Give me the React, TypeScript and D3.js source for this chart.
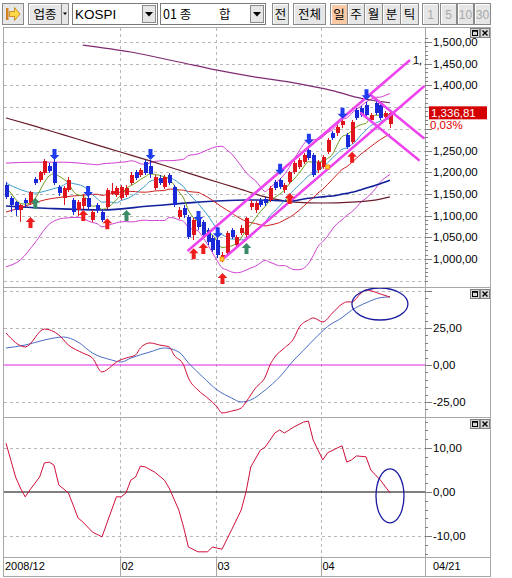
import React from 'react';
import * as d3 from 'd3';

// ---------------- data ----------------
const monthIdx = [0, 24, 44, 66];
const monthLabels = ['2008/12', '02', '03', '04'];
const lastLabel = '04/21';

const opens = [
  1170, 1141, 1131, 1113, 1136, 1129, 1184, 1182, 1198, 1214,
  1223, 1166, 1141, 1159, 1136, 1113, 1122, 1141, 1090, 1124,
  1108, 1120, 1150, 1147, 1141, 1147, 1175, 1200, 1194, 1223,
  1214, 1164, 1187, 1166, 1194, 1166, 1097, 1118, 1097, 1055,
  1097, 1085, 1067, 1048, 1044, 1000, 1014, 1067, 1032, 1060,
  1055, 1120, 1113, 1136, 1138, 1136, 1177, 1182, 1159, 1177,
  1200, 1212, 1223, 1251, 1240, 1205, 1212, 1247, 1290, 1290,
  1309, 1286, 1270, 1343, 1348, 1355, 1320, 1359, 1355, 1328, 1310,
];
const highs = [
  1178, 1146, 1134, 1127, 1141, 1157, 1189, 1203, 1230, 1221,
  1230, 1170, 1168, 1189, 1140, 1136, 1150, 1145, 1113, 1129,
  1115, 1164, 1175, 1168, 1170, 1170, 1200, 1205, 1210, 1228,
  1228, 1194, 1194, 1194, 1198, 1170, 1120, 1124, 1101, 1094,
  1101, 1090, 1071, 1055, 1048, 1016, 1064, 1071, 1055, 1078,
  1097, 1136, 1134, 1141, 1143, 1168, 1182, 1187, 1175, 1203,
  1226, 1233, 1245, 1256, 1244, 1228, 1240, 1279, 1295, 1309,
  1320, 1290, 1320, 1348, 1352, 1362, 1336, 1366, 1359, 1340, 1341,
];
const lows = [
  1138, 1108, 1099, 1085, 1120, 1124, 1170, 1178, 1194, 1198,
  1170, 1145, 1124, 1155, 1101, 1099, 1115, 1113, 1085, 1106,
  1085, 1115, 1147, 1143, 1136, 1143, 1170, 1182, 1189, 1194,
  1187, 1159, 1170, 1162, 1170, 1120, 1092, 1094, 1046, 1044,
  1067, 1048, 1032, 1016, 1002, 993, 1009, 1046, 1028, 1055,
  1051, 1113, 1106, 1120, 1122, 1131, 1159, 1162, 1152, 1173,
  1196, 1207, 1219, 1228, 1189, 1198, 1207, 1242, 1274, 1284,
  1302, 1253, 1265, 1320, 1327, 1327, 1316, 1332, 1320, 1322, 1302,
];
const closes = [
  1143, 1124, 1113, 1124, 1129, 1154, 1175, 1200, 1226, 1203,
  1175, 1152, 1164, 1182, 1108, 1131, 1141, 1120, 1108, 1113,
  1090, 1159, 1157, 1164, 1166, 1164, 1194, 1187, 1205, 1198,
  1196, 1189, 1175, 1189, 1175, 1124, 1113, 1101, 1051, 1090,
  1074, 1055, 1039, 1021, 1009, 1009, 1060, 1051, 1051, 1071,
  1094, 1129, 1129, 1124, 1129, 1164, 1164, 1166, 1170, 1200,
  1221, 1228, 1240, 1233, 1194, 1223, 1235, 1274, 1279, 1304,
  1318, 1258, 1316, 1325, 1332, 1332, 1332, 1336, 1325, 1336.4, 1336.81,
];
const lastClose = 1336.81;
const lastChange = '0,03%';

// averages before a full window is available
const ma5Early: [number, number][] = [[0, 1166], [1, 1152], [2, 1138], [3, 1128]];
const ma10Early: [number, number][] = [[0, 1175], [3, 1160], [6, 1152], [8, 1156]];
const ma20Early: [number, number][] = [[0, 1108], [4, 1122], [8, 1136], [12, 1143], [16, 1147], [18, 1149]];
const bbUpEarly: [number, number][] = [[0, 1221], [6, 1223], [12, 1223], [18, 1218]];
const bbLoEarly: [number, number][] = [[0, 982], [3, 998], [6, 1037], [9, 1080], [12, 1094], [15, 1096], [18, 1084]];
const ma60Early: [number, number][] = [[0, 1122], [10, 1116], [20, 1113], [30, 1122], [40, 1131], [50, 1136], [58, 1134]];
const ma120Idx = [0, 6, 12, 18, 24, 30, 36, 42, 48, 54, 60, 66, 72, 78, 80];
const ma120Val = [1325, 1306, 1286, 1266, 1246, 1226, 1205, 1184, 1164, 1143, 1131, 1129, 1131, 1138, 1143];
const ma240Idx = [16, 26, 36, 44, 52, 60, 68, 74, 80];
const ma240Val = [1493, 1477, 1454, 1435, 1419, 1406, 1388, 1370, 1360];

// trend channel lines (index, price) start -> end
const trendStartIdx = [38, 45, 76, 74];
const trendStartVal = [1020, 998, 1378, 1336];
const trendEndIdx = [84, 87, 87, 86];
const trendEndVal = [1457, 1397, 1279, 1228];

// signal arrows (index, price at arrow tip)
const sellIdx = [10, 17, 30, 40, 44, 57, 63, 70, 75];
const sellPrice = [1228, 1143, 1228, 1085, 1048, 1194, 1263, 1323, 1366];
const buyIdx = [5, 16, 21, 39, 41, 45, 59, 72];
const buyPrice = [1097, 1113, 1094, 1025, 1037, 968, 1152, 1247];
const greenIdx = [6, 25, 50];
const greenPrice = [1141, 1113, 1037];
const markIdx = [45, 59, 67];
const markPrice = [1000, 1136, 1212];

// middle panel
const macdIdx = [0, 4, 8, 11, 13, 16, 18, 20, 22, 23, 25, 27, 28, 30, 32, 34, 35, 37, 38, 40, 42, 44, 45, 47, 49, 50, 52, 54, 55, 56, 58, 60, 61, 63, 64, 66, 68, 70, 71, 72, 74, 75, 78, 80];
const macdVal = [21.6, 12.2, 24.3, 20.3, 13.5, 8.1, 4.7, -4.7, -0.7, 2.0, 4.7, 6.8, 11.5, 14.9, 13.5, 12.2, 6.8, 0, -8.8, -16.9, -22.3, -28.4, -32.4, -31.1, -29.1, -25, -15.5, -8.1, 0, 5.4, 11.5, 18.2, 25, 30.4, 31.8, 29.1, 35.1, 41.2, 42.6, 42.6, 48.6, 50.7, 48, 45.9];
const sigIdx = [0, 4, 8, 12, 15, 18, 22, 24, 26, 30, 33, 36, 38, 41, 44, 47, 49, 51, 54, 57, 60, 62, 65, 67, 70, 72, 75, 78, 80];
const sigVal = [11.5, 13.5, 16.9, 18.9, 15.5, 8.1, 3.4, 2, 4.7, 8.8, 11.5, 8.8, 1.4, -8.1, -16.9, -22.3, -25, -23.6, -16.9, -8.1, 3.4, 10, 20, 26, 32, 37, 42, 45.5, 46];
const midTicks = [-25, 0, 25];

// bottom panel
const oscIdx = [0, 2, 3, 4, 5, 7, 8, 9, 10, 11, 13, 14, 15, 16, 18, 20, 22, 23, 24, 25, 26, 27, 28, 29, 31, 33, 34, 36, 37, 38, 40, 42, 43, 45, 47, 49, 50, 51, 53, 54, 56, 57, 58, 60, 62, 63, 64, 66, 67, 69, 70, 71, 72, 73, 75, 76, 78, 80];
const oscVal = [11.1, 3.4, 0.9, -1.1, 0.5, 3.4, 6.6, 6.8, 6.1, 1.6, -0.2, -3.0, -5.9, -6.8, -9.1, -10.2, -4.1, -1.1, -1.1, -0.2, 2.7, 3.4, 5.9, 5.7, 4.5, 2.7, 0.9, -4.1, -8.0, -12.5, -13.6, -13.6, -12.5, -13.0, -8.6, -4.1, 0, 5.7, 9.5, 10.2, 13.4, 14.1, 13.4, 14.8, 15.9, 16.1, 11.8, 7.3, 8.9, 10, 10.5, 6.8, 7.3, 8.2, 8.0, 5.0, 2.7, -0.2];
const botTicks = [-10, 0, 10];

// ---------------- layout ----------------
const plotL = 4, plotR = 425, axR = 490;
const pTop = 28, pBot = 287, mTop = 287, mBot = 417, bTop = 417, bBot = 557, frameBot = 576;

const x = d3.scaleLinear().domain([0, 80]).range([6, 390]);
const yP = d3.scaleLinear().domain([1000, 1500]).range([259, 42]);
const yM = d3.scaleLinear().domain([0, 25]).range([365, 328]);
const yB = d3.scaleLinear().domain([0, 10]).range([492, 448]);

const fmt = (v: number) => (v < 0 ? '-' : '') + d3.format(',.2f')(Math.abs(v)).replace('.', ',');

function rolling(n: number, early: [number, number][]) {
  const pts: [number, number][] = early.map(d => [d[0], d[1]]);
  for (let i = n - 1; i < closes.length; i++) {
    pts.push([i, d3.mean(closes.slice(i - n + 1, i + 1)) as number]);
  }
  return pts;
}
function bands(n: number, k: number, earlyU: [number, number][], earlyL: [number, number][]) {
  const up: [number, number][] = earlyU.map(d => [d[0], d[1]]);
  const lo: [number, number][] = earlyL.map(d => [d[0], d[1]]);
  for (let i = n - 1; i < closes.length; i++) {
    const w = closes.slice(i - n + 1, i + 1);
    const m = d3.mean(w) as number;
    const sd = Math.sqrt((d3.sum(w, v => (v - m) * (v - m))) / n);
    up.push([i, m + k * sd]);
    lo.push([i, m - k * sd]);
  }
  return { up, lo };
}

const GRID = '#b8b8b8';
const FRAME = '#a8a8a8';
const FONT = "'Liberation Sans', Arial, sans-serif";
const KFONT = "'Noto Sans CJK KR', 'Noto Sans', sans-serif";

function Btn({ x0, w, label, fill = '#e6e6e6', color = '#000', font = KFONT, size = 12.5 }: any) {
  return (
    <g>
      <rect x={x0 + 0.5} y={3.5} width={w} height={21} fill={fill} stroke="#8a8a8a" />
      <line x1={x0 + 1.5} y1={4.5} x2={x0 + w - 0.5} y2={4.5} stroke="#fff" />
      <line x1={x0 + 1.5} y1={4.5} x2={x0 + 1.5} y2={23.5} stroke="#fff" />
      <text x={x0 + w / 2 + 0.5} y={18.5} textAnchor="middle" fontFamily={font} fontSize={size} fill={color}>{label}</text>
    </g>
  );
}
function DropBtn({ x0, w = 13 }: any) {
  const cx = x0 + w / 2 + 0.5;
  return (
    <g>
      <rect x={x0 + 0.5} y={5.5} width={w} height={17} fill="#e6e6e6" stroke="#8a8a8a" />
      <path d={`M${cx - 4},12 L${cx + 4},12 L${cx},16.5 Z`} fill="#000" />
    </g>
  );
}
function PanelIcons({ y0 }: any) {
  return (
    <g>
      <rect x={470.5} y={y0 + 0.5} width={9} height={9} fill="#d8d8d8" stroke="#808080" />
      <rect x={472.5} y={y0 + 2.5} width={5} height={5} fill="none" stroke="#000" />
      <line x1={472.5} y1={y0 + 3} x2={477.5} y2={y0 + 3} stroke="#000" strokeWidth={1.5} />
      <rect x={480.5} y={y0 + 0.5} width={9} height={9} fill="#d8d8d8" stroke="#808080" />
      <path d={`M${482.5},${y0 + 2.5} L${487.5},${y0 + 7.5} M${487.5},${y0 + 2.5} L${482.5},${y0 + 7.5}`} stroke="#000" strokeWidth={1.4} />
    </g>
  );
}

export default function App() {
  const ma5 = rolling(5, ma5Early);
  const ma10 = rolling(10, ma10Early);
  const ma20 = rolling(20, ma20Early);
  const ma60 = rolling(60, ma60Early);
  const bb = bands(20, 2, bbUpEarly, bbLoEarly);
  const ma120: [number, number][] = ma120Idx.map((d, k) => [d, ma120Val[k]]);
  const ma240: [number, number][] = ma240Idx.map((d, k) => [d, ma240Val[k]]);

  const lineP = d3.line<[number, number]>().x(d => x(d[0])).y(d => yP(d[1])).curve(d3.curveMonotoneX);
  const lineM = d3.line<[number, number]>().x(d => x(d[0])).y(d => yM(d[1])).curve(d3.curveMonotoneX);
  const lineB = d3.line<[number, number]>().x(d => x(d[0])).y(d => yB(d[1])).curve(d3.curveLinear);

  const macd: [number, number][] = macdIdx.map((d, k) => [d, macdVal[k]]);
  const sig: [number, number][] = sigIdx.map((d, k) => [d, sigVal[k]]);
  const osc: [number, number][] = oscIdx.map((d, k) => [d, oscVal[k]]);

  const priceGrid = d3.range(950, 1501, 50);
  const priceMinor = d3.range(950, 1511, 10);
  const priceLabels = d3.range(1000, 1501, 50);
  // labels hidden behind the current-price tag and change text (as in the reference)
  const tagY = yP(lastClose);
  const shownPriceLabels = priceLabels.filter(v => yP(v) < tagY - 12 || yP(v) > tagY + 22);
  const gridX = monthIdx.map(i => Math.round(x(i) - 1.5) + 0.5);

  const downArrow = (cx: number, ty: number) =>
    `M${cx - 2},${ty - 11} h4 v6 h2.8 L${cx},${ty} L${cx - 4.8},${ty - 5} h2.8 Z`;
  const upArrow = (cx: number, ty: number) =>
    `M${cx},${ty} L${cx + 4.8},${ty + 5} h-2.8 v6 h-4 v-6 h-2.8 Z`;

  return (
    <svg width={512} height={578} style={{ position: 'absolute', left: 0, top: 0, background: '#fff' }} fontFamily={FONT}>
      <defs>
        <clipPath id="cp"><rect x={plotL} y={pTop} width={plotR - plotL} height={pBot - pTop} /></clipPath>
        <clipPath id="cm"><rect x={plotL} y={mTop} width={plotR - plotL} height={mBot - mTop} /></clipPath>
        <clipPath id="cb"><rect x={plotL} y={bTop} width={plotR - plotL} height={bBot - bTop} /></clipPath>
      </defs>
      <rect x={0} y={0} width={512} height={578} fill="#fff" />

      {/* ---------------- toolbar ---------------- */}
      <g>
        <rect x={2.5} y={3.5} width={21} height={21} fill="#e6e6e6" stroke="#8a8a8a" />
        <rect x={6} y={8} width={2.5} height={12} fill="#d08020" />
        <path d="M9.5,11.5 h5 v-4 l5.5,6.5 l-5.5,6.5 v-4 h-5 Z" fill="#ffd84a" stroke="#c07a10" strokeWidth={0.8} />
        <Btn x0={28} w={33} label="업종" />
        <rect x={61.5} y={3.5} width={7} height={21} fill="#e6e6e6" stroke="#8a8a8a" />
        <path d="M63,12.5 L67,12.5 L65,15 Z" fill="#000" />
        <rect x={72.5} y={3.5} width={85} height={21} fill="#fff" stroke="#7a7a7a" />
        <text x={75} y={19} fontFamily={FONT} fontSize={13.5} fill="#000">KOSPI</text>
        <DropBtn x0={142} />
        <rect x={160.5} y={3.5} width={105} height={21} fill="#fff" stroke="#7a7a7a" />
        <text x={163} y={19} fontFamily={KFONT} fontSize={12.5} fill="#000">01 종</text>
        <text x={219} y={19} fontFamily={KFONT} fontSize={12.5} fill="#000">합</text>
        <DropBtn x0={250} />
        <Btn x0={272} w={16} label="전" />
        <Btn x0={293} w={32} label="전체" />
        <Btn x0={330} w={17} label="일" fill="#f9c8a4" />
        <Btn x0={347} w={17} label="주" />
        <Btn x0={364} w={18} label="월" />
        <Btn x0={382} w={18} label="분" />
        <Btn x0={400} w={18} label="틱" />
        <Btn x0={422} w={16} label="1" font={FONT} size={12} color="#a8a8a8" />
        <Btn x0={440} w={16} label="5" font={FONT} size={12} color="#a8a8a8" />
        <Btn x0={457} w={16} label="10" font={FONT} size={12} color="#a8a8a8" />
        <Btn x0={474} w={16} label="30" font={FONT} size={12} color="#a8a8a8" />
      </g>

      {/* ---------------- grids ---------------- */}
      <g stroke={GRID} strokeDasharray="3,3" shapeRendering="crispEdges">
        {priceGrid.map(v => (
          <line key={'pg' + v} x1={plotL} x2={plotR} y1={Math.round(yP(v)) + 0.5} y2={Math.round(yP(v)) + 0.5} />
        ))}
        {[-25, 25, 50].map(v => (
          <line key={'mg' + v} x1={plotL} x2={plotR} y1={Math.round(yM(v)) + 0.5} y2={Math.round(yM(v)) + 0.5} />
        ))}
        {[-10, 10].map(v => (
          <line key={'bg' + v} x1={plotL} x2={plotR} y1={Math.round(yB(v)) + 0.5} y2={Math.round(yB(v)) + 0.5} />
        ))}
        {gridX.slice(1).map((gx, k) => (
          <line key={'vg' + k} x1={gx} x2={gx} y1={pTop} y2={bBot} />
        ))}
      </g>

      {/* ---------------- price panel ---------------- */}
      <g clipPath="url(#cp)" fill="none">
        <path d={lineP(bb.up) || ''} stroke="#d040d0" strokeWidth={1} />
        <path d={lineP(bb.lo) || ''} stroke="#d040d0" strokeWidth={1} />
        <path d={lineP(ma240) || ''} stroke="#7e2a72" strokeWidth={1.2} />
        <path d={lineP(ma120) || ''} stroke="#6a1c2c" strokeWidth={1.2} />
        <path d={lineP(ma60) || ''} stroke="#12209a" strokeWidth={1.6} />
        <path d={lineP(ma20) || ''} stroke="#cc1e1e" strokeWidth={1} />
        <path d={lineP(ma10) || ''} stroke="#3c9ccc" strokeWidth={1} />
        <path d={lineP(ma5) || ''} stroke="#6c9a1c" strokeWidth={1} />

        {closes.map((c, i) => {
          const o = opens[i];
          const up = c >= o;
          const col = up ? '#e0141c' : '#1a28d8';
          const top = yP(Math.max(o, c));
          const bot = yP(Math.min(o, c));
          const cx = Math.round(x(i));
          return (
            <g key={'c' + i} shapeRendering="crispEdges">
              <line x1={cx + 0.5} x2={cx + 0.5} y1={yP(highs[i])} y2={yP(lows[i])} stroke={col} />
              <rect x={cx - 1} y={top} width={4} height={Math.max(1, bot - top)} fill={col} />
            </g>
          );
        })}

        {trendStartIdx.map((s, k) => (
          <line key={'t' + k} x1={x(s)} y1={yP(trendStartVal[k])} x2={x(trendEndIdx[k])} y2={yP(trendEndVal[k])}
            stroke="#ee44ee" strokeWidth={2.6} strokeLinecap="round" />
        ))}

        {markIdx.map((m, k) => (
          <rect key={'mk' + k} x={x(m) - 2} y={yP(markPrice[k]) - 2} width={4} height={4} fill="#ffcc33" stroke="#ff8800" strokeWidth={0.8} />
        ))}
        {sellIdx.map((s, k) => (
          <path key={'s' + k} d={downArrow(x(s) + 0.5, yP(sellPrice[k]))} fill="#1f3cf0" />
        ))}
        {buyIdx.map((s, k) => (
          <path key={'b' + k} d={upArrow(x(s) + 0.5, yP(buyPrice[k]))} fill="#ee1c1c" />
        ))}
        {greenIdx.map((s, k) => (
          <path key={'g' + k} d={upArrow(x(s) + 0.5, yP(greenPrice[k]))} fill="#3a8c68" />
        ))}
      </g>
      <text x={413} y={64} fontSize={11} fill="#000">1,</text>

      {/* ---------------- middle panel ---------------- */}
      <g clipPath="url(#cm)" fill="none">
        <line x1={plotL} x2={plotR} y1={yM(0)} y2={yM(0)} stroke="#e020e0" strokeWidth={1} />
        <path d={lineM(sig) || ''} stroke="#4a6cc4" strokeWidth={1} />
        <path d={lineM(macd) || ''} stroke="#d0103a" strokeWidth={1} />
        <ellipse cx={x(77.9)} cy={yM(41.2)} rx={28} ry={16} stroke="#1a1aa0" strokeWidth={1.3} />
      </g>

      {/* ---------------- bottom panel ---------------- */}
      <g clipPath="url(#cb)" fill="none">
        <line x1={plotL} x2={plotR} y1={yB(0)} y2={yB(0)} stroke="#000" strokeWidth={1} />
        <path d={lineB(osc) || ''} stroke="#d0103a" strokeWidth={1} />
        <ellipse cx={x(80)} cy={yB(-0.9)} rx={14} ry={27} stroke="#1a1aa0" strokeWidth={1.3} />
      </g>

      {/* ---------------- frame ---------------- */}
      <g stroke={FRAME} fill="none" shapeRendering="crispEdges">
        <rect x={3.5} y={27.5} width={axR - 3} height={frameBot - 27} />
        <line x1={plotR + 0.5} x2={plotR + 0.5} y1={27} y2={frameBot} />
        <line x1={3} x2={axR} y1={mTop + 0.5} y2={mTop + 0.5} />
        <line x1={3} x2={axR} y1={bTop + 0.5} y2={bTop + 0.5} />
        <line x1={3} x2={axR} y1={bBot + 0.5} y2={bBot + 0.5} />
        {gridX.slice(1).map((gx, k) => (
          <line key={'xt' + k} x1={gx} x2={gx} y1={bBot} y2={frameBot} />
        ))}
      </g>

      {/* ---------------- right axes ---------------- */}
      <g stroke="#808080" shapeRendering="crispEdges">
        {priceMinor.map(v => (
          <line key={'pm' + v} x1={plotR} x2={plotR + 3} y1={Math.round(yP(v)) + 0.5} y2={Math.round(yP(v)) + 0.5} />
        ))}
        {priceLabels.map(v => (
          <line key={'pM' + v} x1={plotR} x2={plotR + 7} y1={Math.round(yP(v)) + 0.5} y2={Math.round(yP(v)) + 0.5} />
        ))}
        {d3.range(-30, 51, 5).map(v => (
          <line key={'mm' + v} x1={plotR} x2={plotR + (v % 25 === 0 ? 7 : 3)} y1={Math.round(yM(v)) + 0.5} y2={Math.round(yM(v)) + 0.5} />
        ))}
        {d3.range(-14, 17, 2).map(v => (
          <line key={'bm' + v} x1={plotR} x2={plotR + (v % 10 === 0 ? 7 : 3)} y1={Math.round(yB(v)) + 0.5} y2={Math.round(yB(v)) + 0.5} />
        ))}
      </g>
      <g fontSize={11.5} fill="#000">
        {shownPriceLabels.map(v => (
          <text key={'pl' + v} x={433} y={yP(v) + 4}>{fmt(v)}</text>
        ))}
        {midTicks.map(v => (
          <text key={'ml' + v} x={433} y={yM(v) + 4}>{fmt(v)}</text>
        ))}
        {botTicks.map(v => (
          <text key={'bl' + v} x={433} y={yB(v) + 4}>{fmt(v)}</text>
        ))}
      </g>

      {/* current price tag */}
      <rect x={429} y={tagY - 6.5} width={58} height={13} fill="#d40000" />
      <text x={431} y={tagY + 4} fontSize={11.5} fill="#fff">{fmt(lastClose)}</text>
      <text x={430} y={tagY + 16} fontSize={11.5} fill="#e00000">{lastChange}</text>

      <PanelIcons y0={28} />
      <PanelIcons y0={289} />
      <PanelIcons y0={419} />

      {/* ---------------- x axis labels ---------------- */}
      <g fontSize={11} fill="#000">
        {monthLabels.map((m, k) => (
          <text key={'xl' + k} x={k === 0 ? 5 : gridX[k] + 1} y={570}>{m}</text>
        ))}
        <text x={433} y={570}>{lastLabel}</text>
      </g>
    </svg>
  );
}
